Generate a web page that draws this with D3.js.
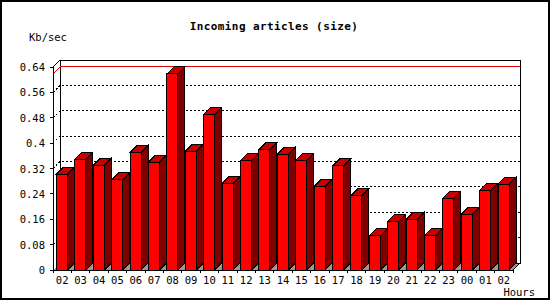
<!DOCTYPE html>
<html>
<head>
<meta charset="utf-8">
<script src="https://cdn.jsdelivr.net/npm/d3@7"></script>
<style>
  body { margin: 0; background: #fff; }
  svg { display: block; }
  text { font-family: "DejaVu Sans Mono", monospace; fill: #000; }
</style>
</head>
<body>
<svg id="chart"></svg>
<script>
// hour labels along the x axis
var hours = ["02","03","04","05","06","07","08","09","10","11","12","13",
             "14","15","16","17","18","19","20","21","22","23","00","01","02"];
// incoming Kb/sec per hour
var sizes = [0.302, 0.349, 0.331, 0.284, 0.371, 0.340, 0.618, 0.374, 0.491, 0.273, 0.346, 0.380,
             0.365, 0.346, 0.264, 0.328, 0.235, 0.109, 0.154, 0.160, 0.109, 0.226, 0.176, 0.251, 0.271];
var yTicks = [0, 0.08, 0.16, 0.24, 0.32, 0.4, 0.48, 0.56, 0.64];

var w = 550, h = 300;
var depth = 7;   // 3d offset

var svg = d3.select("#chart")
            .attr("width", w)
            .attr("height", h)
            .attr("shape-rendering", "crispEdges");

// outer frame
svg.append("rect")
   .attr("x", 1).attr("y", 1)
   .attr("width", w - 2).attr("height", h - 2)
   .attr("fill", "white")
   .attr("stroke", "black")
   .attr("stroke-width", 2);

var x = d3.scaleBand()
          .domain(d3.range(hours.length))
          .range([53, 513]);

var y = d3.scaleLinear()
          .domain([0, 0.64])
          .range([270, 67]);

var x0 = 53, x1 = 513, y0 = y(0);

// floor
svg.append("polygon")
   .attr("points", [[x0, y0], [x0 + depth, y0 - depth], [x1 + depth, y0 - depth], [x1, y0]].join(" "))
   .attr("fill", "#999999");

// back wall
svg.append("rect")
   .attr("x", x0 + depth).attr("y", y(0.64) - depth)
   .attr("width", x1 - x0).attr("height", y0 - y(0.64))
   .attr("fill", "none")
   .attr("stroke", "black");

// dotted grid lines on the back wall
yTicks.slice(1, -1).forEach(function(t){
  svg.append("polyline")
     .attr("points", [[x0, y(t)], [x0 + depth, y(t) - depth], [x1 + depth, y(t) - depth]].join(" "))
     .attr("fill", "none")
     .attr("stroke", "black")
     .attr("stroke-dasharray", "2,2");
});

// red line at the maximum
var maxV = d3.max(sizes);
svg.append("polyline")
   .attr("points", [[x0, y(maxV)], [x0 + depth, y(maxV) - depth], [x1 + depth, y(maxV) - depth]].join(" "))
   .attr("fill", "none")
   .attr("stroke", "#e00000");

// wall edges
svg.append("line")
   .attr("x1", x0).attr("y1", y(0.64))
   .attr("x2", x0 + depth).attr("y2", y(0.64) - depth)
   .attr("stroke", "black");
svg.append("line")
   .attr("x1", x1).attr("y1", y0)
   .attr("x2", x1 + depth).attr("y2", y0 - depth)
   .attr("stroke", "black");

// bars
var off = 3.5, bw = 11;
var bars = svg.append("g").selectAll("g")
              .data(sizes)
              .enter()
              .append("g");

bars.append("polygon")
    .attr("points", function(d, i){
      var l = x(i) + off, r = l + bw, t = y(d);
      return [[r, t], [r + depth, t - depth], [r + depth, y0 - depth], [r, y0]].join(" ");
    })
    .attr("fill", "#800000")
    .attr("stroke", "black");

bars.append("polygon")
    .attr("points", function(d, i){
      var l = x(i) + off, r = l + bw, t = y(d);
      return [[l, t], [l + depth, t - depth], [r + depth, t - depth], [r, t]].join(" ");
    })
    .attr("fill", "#c80000")
    .attr("stroke", "black");

bars.append("rect")
    .attr("x", function(d, i){ return x(i) + off; })
    .attr("y", function(d){ return y(d); })
    .attr("width", bw)
    .attr("height", function(d){ return y0 - y(d); })
    .attr("fill", "#ff0000")
    .attr("stroke", "black");

// y axis
svg.append("line")
   .attr("x1", x0).attr("y1", y(0.64))
   .attr("x2", x0).attr("y2", y0)
   .attr("stroke", "black");
yTicks.forEach(function(t){
  svg.append("line")
     .attr("x1", x0 - 3).attr("y1", y(t))
     .attr("x2", x0).attr("y2", y(t))
     .attr("stroke", "black");
  svg.append("text")
     .attr("x", 45)
     .attr("y", y(t) + 4)
     .attr("text-anchor", "end")
     .style("font-size", "10.5px")
     .text(String(t));
});

// x axis
svg.append("line")
   .attr("x1", x0).attr("y1", y0)
   .attr("x2", x1).attr("y2", y0)
   .attr("stroke", "black");
d3.range(hours.length + 1).forEach(function(i){
  var xx = i < hours.length ? x(i) : x1;
  svg.append("line")
     .attr("x1", xx).attr("y1", y0)
     .attr("x2", xx).attr("y2", y0 + 3)
     .attr("stroke", "black");
});
svg.append("g").selectAll("text")
   .data(hours)
   .enter()
   .append("text")
   .attr("x", function(d, i){ return x(i) + x.bandwidth() / 2; })
   .attr("y", 283.5)
   .attr("text-anchor", "middle")
   .style("font-size", "10.5px")
   .text(function(d){ return d; });

// titles
svg.append("text")
   .attr("x", 274)
   .attr("y", 30)
   .attr("text-anchor", "middle")
   .style("font-size", "11px")
   .style("font-weight", "bold")
   .style("letter-spacing", "0.4px")
   .text("Incoming articles (size)");

svg.append("text")
   .attr("x", 29)
   .attr("y", 41)
   .style("font-size", "10.5px")
   .text("Kb/sec");

svg.append("text")
   .attr("x", 535)
   .attr("y", 295.5)
   .attr("text-anchor", "end")
   .style("font-size", "10.5px")
   .text("Hours");
</script>
</body>
</html>
